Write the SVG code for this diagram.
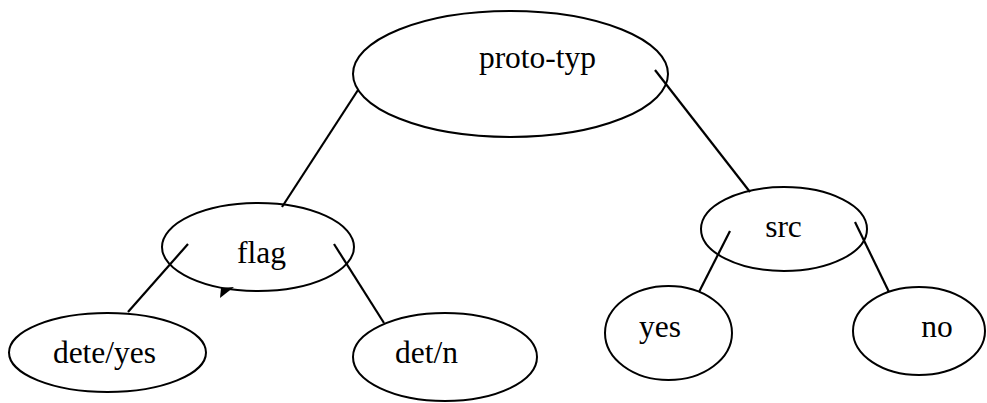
<svg xmlns="http://www.w3.org/2000/svg" width="987" height="403" viewBox="0 0 987 403">
<style>
.n ellipse{fill:#fff;stroke:#000;stroke-width:2}
.n text{font-family:"Liberation Serif","Times New Roman",serif;font-size:31.5px;fill:#000;text-anchor:middle}
#edges line{stroke:#000;stroke-width:2.2}
</style>
<rect width="987" height="403" fill="#fff"/>
<g id="n-proto"  class="n"><ellipse cx="510.5" cy="74" rx="157.5" ry="63"/><text x="537.5" y="68">proto-typ</text></g>
<g id="n-flag" class="n"><ellipse cx="258" cy="247" rx="96" ry="44"/><text x="261.5" y="263">flag</text></g>
<g id="n-src" class="n"><ellipse cx="784" cy="229" rx="83" ry="42"/><text x="783.5" y="237">src</text></g>
<g id="n-deteyes" class="n"><ellipse cx="107.5" cy="352.5" rx="98.5" ry="39.5"/><text x="104.5" y="363">dete/yes</text></g>
<g id="n-detn" class="n"><ellipse cx="445" cy="357" rx="92" ry="44"/><text x="426.5" y="363">det/n</text></g>
<g id="n-yes" class="n"><ellipse cx="668.5" cy="333" rx="63.5" ry="47"/><text x="660" y="337">yes</text></g>
<g id="n-no" class="n"><ellipse cx="919" cy="331" rx="66" ry="44"/><text x="937" y="337">no</text></g>
<g id="edges">
<line x1="358" y1="90" x2="282" y2="207"/>
<line x1="655" y1="70" x2="750" y2="192"/>
<line x1="188" y1="244" x2="128" y2="312"/>
<line x1="334" y1="244" x2="384" y2="323"/>
<line x1="730" y1="231" x2="699" y2="292"/>
<line x1="855" y1="222" x2="889" y2="292"/>
<polygon points="221,288 234,287 220,298" fill="#000"/>
</g>
</svg>
